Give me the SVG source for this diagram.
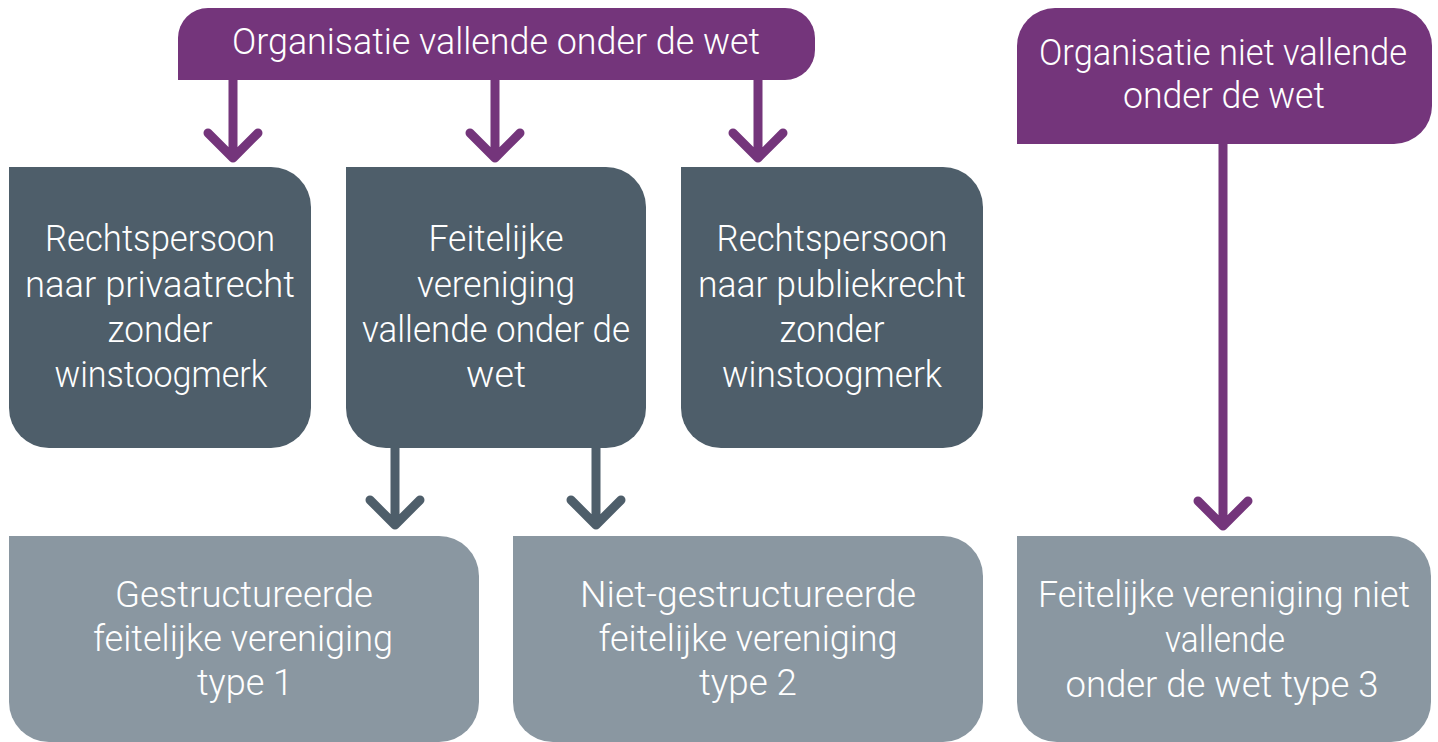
<svg xmlns="http://www.w3.org/2000/svg" width="1438" height="742" viewBox="0 0 1438 742">
<style>
.t{font-family:Roboto,"Open Sans","Liberation Sans",sans-serif;font-weight:300;font-size:36px;fill:#ffffff;text-anchor:middle}
.p{fill:#74357b}
.d{fill:#4e5e6a}
.l{fill:#8a97a1}
.ap{stroke:#74357b;stroke-width:9;fill:none;stroke-linecap:round;stroke-linejoin:round}
.ad{stroke:#4e5e6a;stroke-width:9;fill:none;stroke-linecap:round;stroke-linejoin:round}
</style>
<rect width="1438" height="742" fill="#ffffff"/>
<g id="connectors">
<path class="ap" d="M233,80 V156 M208,133 L233,158 L258,133"/>
<path class="ap" d="M495,80 V156 M470,133 L495,158 L520,133"/>
<path class="ap" d="M758,80 V156 M733,133 L758,158 L783,133"/>
<path class="ap" d="M1223,144 V524 M1198,501 L1223,526 L1248,501"/>
<path class="ad" d="M395,447 V523 M370,500 L395,525 L420,500"/>
<path class="ad" d="M596,447 V523 M571,500 L596,525 L621,500"/>
</g>
<g id="org-vallend">
<path class="p" d="M178,80 V38 A30,30 0 0 1 208,8 H785 A30,30 0 0 1 815,38 V50 A30,30 0 0 1 785,80 Z"/>
<text class="t" x="496" y="54" textLength="528" lengthAdjust="spacingAndGlyphs">Organisatie vallende onder de wet</text>
</g>
<g id="org-niet-vallend">
<path class="p" d="M1017,144 V46 A38,38 0 0 1 1055,8 H1394 A38,38 0 0 1 1432,46 V106 A38,38 0 0 1 1394,144 Z"/>
<text class="t" x="1223" y="65" textLength="368" lengthAdjust="spacingAndGlyphs">Organisatie niet vallende</text>
<text class="t" x="1224" y="108" textLength="202" lengthAdjust="spacingAndGlyphs">onder de wet</text>
</g>
<g id="rp-privaat">
<path class="d" d="M9,167 H271 A40,40 0 0 1 311,207 V408 A40,40 0 0 1 271,448 H49 A40,40 0 0 1 9,408 Z"/>
<text class="t" x="160" y="251" textLength="230" lengthAdjust="spacingAndGlyphs">Rechtspersoon</text>
<text class="t" x="160" y="297" textLength="270" lengthAdjust="spacingAndGlyphs">naar privaatrecht</text>
<text class="t" x="160" y="342" textLength="105" lengthAdjust="spacingAndGlyphs">zonder</text>
<text class="t" x="161" y="387" textLength="213" lengthAdjust="spacingAndGlyphs">winstoogmerk</text>
</g>
<g id="fv-vallend">
<path class="d" d="M346,167 H606 A40,40 0 0 1 646,207 V408 A40,40 0 0 1 606,448 H386 A40,40 0 0 1 346,408 Z"/>
<text class="t" x="496" y="251" textLength="135" lengthAdjust="spacingAndGlyphs">Feitelijke</text>
<text class="t" x="496" y="297" textLength="158" lengthAdjust="spacingAndGlyphs">vereniging</text>
<text class="t" x="496" y="342" textLength="268" lengthAdjust="spacingAndGlyphs">vallende onder de</text>
<text class="t" x="496" y="387" textLength="60" lengthAdjust="spacingAndGlyphs">wet</text>
</g>
<g id="rp-publiek">
<path class="d" d="M681,167 H943 A40,40 0 0 1 983,207 V408 A40,40 0 0 1 943,448 H721 A40,40 0 0 1 681,408 Z"/>
<text class="t" x="832" y="251" textLength="231" lengthAdjust="spacingAndGlyphs">Rechtspersoon</text>
<text class="t" x="832" y="297" textLength="268" lengthAdjust="spacingAndGlyphs">naar publiekrecht</text>
<text class="t" x="832" y="342" textLength="105" lengthAdjust="spacingAndGlyphs">zonder</text>
<text class="t" x="832" y="387" textLength="220" lengthAdjust="spacingAndGlyphs">winstoogmerk</text>
</g>
<g id="type1">
<path class="l" d="M9,536 H439 A40,40 0 0 1 479,576 V702 A40,40 0 0 1 439,742 H49 A40,40 0 0 1 9,702 Z"/>
<text class="t" x="244" y="607" textLength="258" lengthAdjust="spacingAndGlyphs">Gestructureerde</text>
<text class="t" x="243" y="651" textLength="300" lengthAdjust="spacingAndGlyphs">feitelijke vereniging</text>
<text class="t" x="245" y="695" textLength="96" lengthAdjust="spacingAndGlyphs">type 1</text>
</g>
<g id="type2">
<path class="l" d="M513,536 H943 A40,40 0 0 1 983,576 V702 A40,40 0 0 1 943,742 H553 A40,40 0 0 1 513,702 Z"/>
<text class="t" x="748" y="607" textLength="336" lengthAdjust="spacingAndGlyphs">Niet-gestructureerde</text>
<text class="t" x="748" y="651" textLength="299" lengthAdjust="spacingAndGlyphs">feitelijke vereniging</text>
<text class="t" x="748" y="695" textLength="98" lengthAdjust="spacingAndGlyphs">type 2</text>
</g>
<g id="type3">
<path class="l" d="M1017,536 H1391 A40,40 0 0 1 1431,576 V702 A40,40 0 0 1 1391,742 H1057 A40,40 0 0 1 1017,702 Z"/>
<text class="t" x="1224" y="607" textLength="372" lengthAdjust="spacingAndGlyphs">Feitelijke vereniging niet</text>
<text class="t" x="1225" y="652" textLength="120" lengthAdjust="spacingAndGlyphs">vallende</text>
<text class="t" x="1222" y="697" textLength="313" lengthAdjust="spacingAndGlyphs">onder de wet type 3</text>
</g>
</svg>
